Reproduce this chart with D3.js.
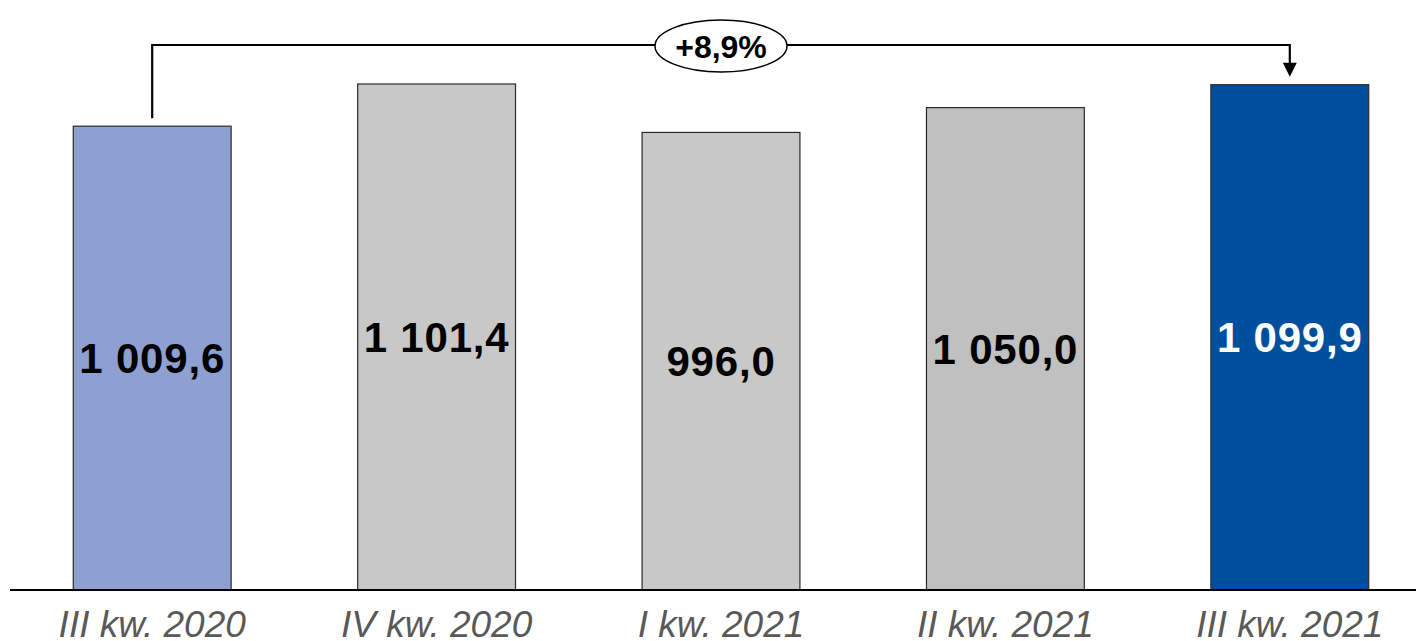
<!DOCTYPE html>
<html>
<head>
<meta charset="utf-8">
<script src="https://cdn.jsdelivr.net/npm/d3@7"></script>
<style>
  body { margin: 0; background: #fff; }
  svg { display: block; }
</style>
</head>
<body>
<div id="chart"></div>
<script>
// data
var quarters = ["III kw. 2020", "IV kw. 2020", "I kw. 2021", "II kw. 2021", "III kw. 2021"];
var values = [1009.6, 1101.4, 996.0, 1050.0, 1099.9];
var valueLabels = ["1 009,6", "1 101,4", "996,0", "1 050,0", "1 099,9"];
var barColors = ["#8E9FD1", "#C8C8C8", "#C8C8C8", "#C0C0C0", "#004F9F"];
var labelColors = ["#000", "#000", "#000", "#000", "#fff"];
var changeLabel = "+8,9%";

var width = 1416, height = 641;
var baseY = 590;

var svg = d3.select("#chart").append("svg")
    .attr("width", width)
    .attr("height", height);

var data = quarters.map(function(q, i) {
    return { q: q, v: values[i], label: valueLabels[i], color: barColors[i], lc: labelColors[i] };
});

// scales
var x = d3.scaleBand()
    .domain(quarters)
    .range([10, 1432])
    .paddingInner(0.445)
    .paddingOuter(0.2225);

var y = d3.scaleLinear()
    .domain([0, 1200])
    .range([baseY, 38.7]);

// bars
svg.selectAll("rect.bar")
    .data(data)
    .enter()
    .append("rect")
    .attr("class", "bar")
    .attr("x", function(d) { return x(d.q); })
    .attr("y", function(d) { return y(d.v); })
    .attr("width", x.bandwidth())
    .attr("height", function(d) { return baseY - y(d.v); })
    .attr("fill", function(d) { return d.color; })
    .attr("stroke", "#2a2a2a")
    .attr("stroke-width", 1.2);

// value labels in the middle of the bars
svg.selectAll("text.val")
    .data(data)
    .enter()
    .append("text")
    .attr("class", "val")
    .attr("x", function(d) { return x(d.q) + x.bandwidth() / 2; })
    .attr("y", function(d) { return (y(d.v) + baseY) / 2; })
    .attr("dy", "0.36em")
    .attr("text-anchor", "middle")
    .style("font-family", "'Liberation Sans', Arial, sans-serif")
    .style("font-weight", "bold")
    .style("font-size", "42px")
    .style("letter-spacing", "0.8px")
    .attr("fill", function(d) { return d.lc; })
    .text(function(d) { return d.label; });

// x axis
var xAxis = d3.axisBottom(x).tickSize(0).tickPadding(0);
var gx = svg.append("g")
    .attr("transform", "translate(0," + baseY + ")")
    .call(xAxis);
gx.select(".domain").remove();
gx.append("line")
    .attr("x1", 10).attr("x2", width)
    .attr("y1", 0).attr("y2", 0)
    .attr("stroke", "#000")
    .attr("stroke-width", 2);
gx.selectAll(".tick text")
    .attr("y", 47)
    .attr("dy", 0)
    .style("font-family", "'Liberation Sans', Arial, sans-serif")
    .style("font-style", "italic")
    .style("font-size", "37px")
    .attr("fill", "#595959");

// bracket with change label
var first = data[0], last = data[data.length - 1];
var x0 = x(first.q) + x.bandwidth() / 2;
var x1 = x(last.q) + x.bandwidth() / 2;
var topY = 45;
var tipY = y(last.v) - 8;

svg.append("path")
    .attr("d", "M" + x0 + "," + (y(first.v) - 8) + "V" + topY + "H" + x1 + "V" + (tipY - 12))
    .attr("fill", "none")
    .attr("stroke", "#000")
    .attr("stroke-width", 2.2);

svg.append("path")
    .attr("d", "M" + (x1 - 7) + "," + (tipY - 14) + "L" + (x1 + 7) + "," + (tipY - 14) + "L" + x1 + "," + tipY + "Z")
    .attr("fill", "#000");

var cx = (x(quarters[2]) + x.bandwidth() / 2);
svg.append("ellipse")
    .attr("cx", cx)
    .attr("cy", topY + 1)
    .attr("rx", 66)
    .attr("ry", 26)
    .attr("fill", "#fff")
    .attr("stroke", "#000")
    .attr("stroke-width", 1.5);

svg.append("text")
    .attr("x", cx)
    .attr("y", topY + 1)
    .attr("dy", "0.37em")
    .attr("text-anchor", "middle")
    .style("font-family", "'Liberation Sans', Arial, sans-serif")
    .style("font-weight", "bold")
    .style("font-size", "32px")
    .text(changeLabel);
</script>
</body>
</html>
